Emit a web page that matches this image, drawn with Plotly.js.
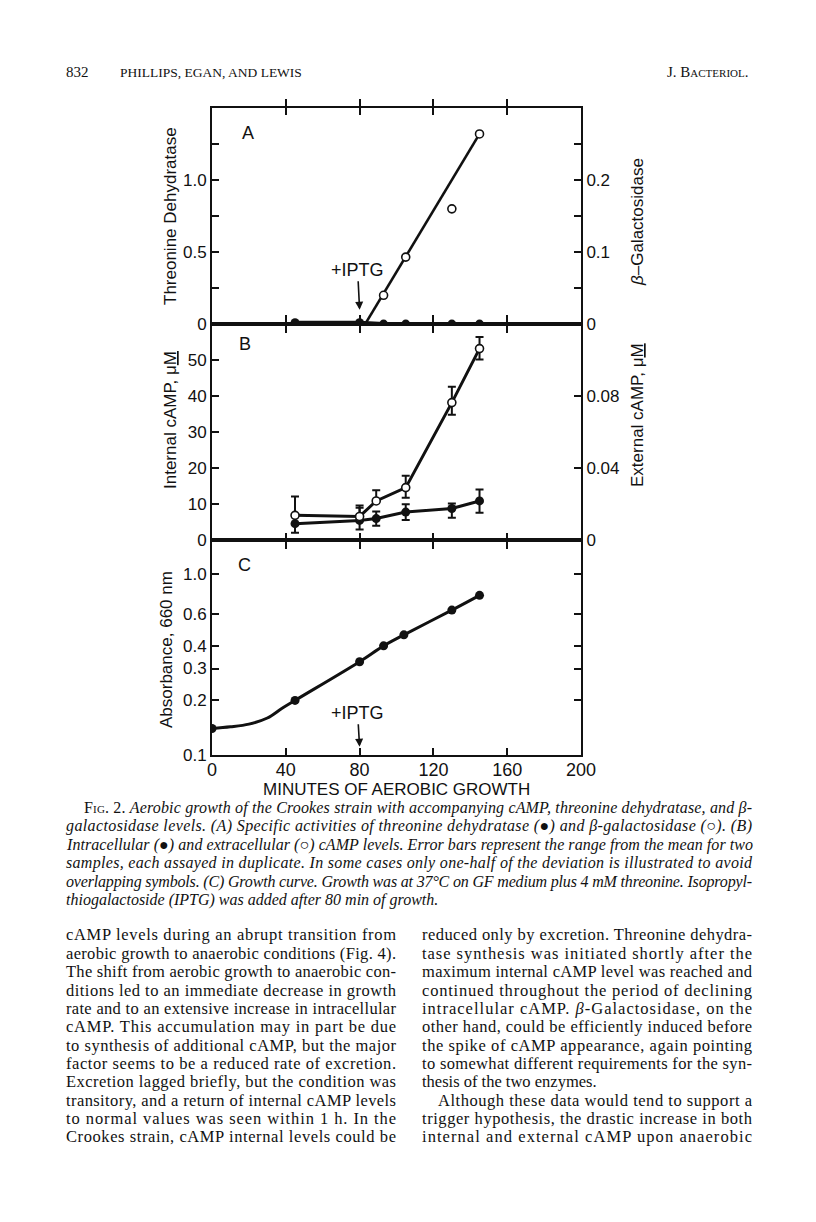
<!DOCTYPE html>
<html>
<head>
<meta charset="utf-8">
<script src="https://cdn.plot.ly/plotly-3.0.1.min.js"></script>
<style>
  body { margin: 0; background: #fff; }
  #plot { width: 816px; height: 1222px; }
</style>
</head>
<body>
<div id="plot"></div>
<script>
// (A) specific activities
var minA = [45, 80, 93, 105, 130, 145];
var threonineDH = [0.01, 0.01, 0, 0, 0, 0];
var minGal = [93, 105, 130, 145];
var betaGal = [0.04, 0.093, 0.16, 0.264];
var galFitMin = [83, 145];
var galFit = [0, 0.264];

// (B) intracellular (closed) and extracellular (open) cAMP
var minB = [45, 80, 89, 105, 130, 145];
var internalCamp = [4.6, 5.5, 6.0, 7.8, 8.8, 10.9];
var internalUp = [0, 3.5, 2.0, 2.2, 1.4, 3.2];
var internalDown = [2.5, 2.5, 2.0, 2.2, 2.6, 3.3];
var externalCamp = [0.0138, 0.0132, 0.0218, 0.0292, 0.0764, 0.1064];
var externalUp = [0.0104, 0.006, 0.006, 0.0066, 0.0088, 0.0064];
var externalDown = [0, 0, 0, 0.0056, 0.0068, 0.006];

var minC = [0, 45, 80, 93, 104, 130, 145];
var absorbance = [0.14, 0.2, 0.327, 0.4, 0.46, 0.63, 0.76];
var curveMin = [0, 10, 20, 30, 38, 45, 80, 93, 104, 130, 145];
var curveAbs = [0.14, 0.143, 0.148, 0.16, 0.181, 0.2, 0.327, 0.4, 0.46, 0.63, 0.76];

var iptgMin = 80;
var xTicks = [0, 40, 80, 120, 160, 200];

var captionLines = [
  "F<span style='font-size:11px'>IG</span>. 2. <i>Aerobic growth of the Crookes strain with accompanying cAMP, threonine dehydratase, and β-</i>",
  "<i>galactosidase levels. (A) Specific activities of threonine dehydratase (●) and β-galactosidase (○). (B)</i>",
  "<i>Intracellular (●) and extracellular (○) cAMP levels. Error bars represent the range from the mean for two</i>",
  "<i>samples, each assayed in duplicate. In some cases only one-half of the deviation is illustrated to avoid</i>",
  "<i>overlapping symbols. (C) Growth curve. Growth was at 37°C on GF medium plus 4 mM threonine. Isopropyl-</i>",
  "<i>thiogalactoside (IPTG) was added after 80 min of growth.</i>"
];
var leftCol = [
  "cAMP levels during an abrupt transition from",
  "aerobic growth to anaerobic conditions (Fig. 4).",
  "The shift from aerobic growth to anaerobic con-",
  "ditions led to an immediate decrease in growth",
  "rate and to an extensive increase in intracellular",
  "cAMP. This accumulation may in part be due",
  "to synthesis of additional cAMP, but the major",
  "factor seems to be a reduced rate of excretion.",
  "Excretion lagged briefly, but the condition was",
  "transitory, and a return of internal cAMP levels",
  "to normal values was seen within 1 h. In the",
  "Crookes strain, cAMP internal levels could be"
];
var rightCol = [
  "reduced only by excretion. Threonine dehydra-",
  "tase synthesis was initiated shortly after the",
  "maximum internal cAMP level was reached and",
  "continued throughout the period of declining",
  "intracellular cAMP. <i>β</i>-Galactosidase, on the",
  "other hand, could be efficiently induced before",
  "the spike of cAMP appearance, again pointing",
  "to somewhat different requirements for the syn-",
  "thesis of the two enzymes.",
  "Although these data would tend to support a",
  "trigger hypothesis, the drastic increase in both",
  "internal and external cAMP upon anaerobic"
];

var INK = "#111";
var SANS = "Liberation Sans, Arial, sans-serif";
var SERIF = "Liberation Serif, Times New Roman, serif";

// page pixels -> paper coords (plot area 212..581 x 108..755)
var L = 212, R = 235, T = 108, B = 467, W = 816 - L - R, H = 1222 - T - B;
function note(text, px, py, o) {
  o = o || {};
  return {
    text: text, xref: "paper", yref: "paper",
    x: (px - L) / W, y: (1222 - B - py) / H,
    xanchor: o.xanchor || "center", yanchor: o.yanchor || "middle",
    align: o.xanchor === "left" ? "left" : (o.xanchor === "right" ? "right" : "center"),
    showarrow: false, textangle: o.angle || 0,
    font: {family: o.family || SANS, size: o.size || 17, color: INK}
  };
}

var closedMk = {symbol: "circle", size: 9, color: INK};
var openMk = {symbol: "circle", size: 8, color: "#fff", line: {color: INK, width: 1.6}};

var traces = [
  {x: minA, y: threonineDH, xaxis: "x3", yaxis: "y", mode: "lines+markers",
   line: {color: INK, width: 4}, marker: closedMk},
  {x: galFitMin, y: galFit, xaxis: "x3", yaxis: "y2", mode: "lines",
   line: {color: INK, width: 2.6}},
  {x: minGal, y: betaGal, xaxis: "x3", yaxis: "y2", mode: "markers", marker: openMk},

  {x: minB, y: internalCamp, xaxis: "x2", yaxis: "y3", mode: "lines+markers",
   line: {color: INK, width: 3}, marker: closedMk,
   error_y: {type: "data", symmetric: false, array: internalUp, arrayminus: internalDown,
             color: INK, thickness: 2, width: 4}},
  {x: minB, y: externalCamp, xaxis: "x2", yaxis: "y4", mode: "lines+markers",
   line: {color: INK, width: 3}, marker: openMk,
   error_y: {type: "data", symmetric: false, array: externalUp, arrayminus: externalDown,
             color: INK, thickness: 2, width: 4}},

  {x: curveMin, y: curveAbs, xaxis: "x", yaxis: "y5", mode: "lines",
   line: {color: INK, width: 3, shape: "spline", smoothing: 1}},
  {x: minC, y: absorbance, xaxis: "x", yaxis: "y5", mode: "markers", marker: closedMk}
];

function xAx(anchor, labels) {
  return {
    anchor: anchor, domain: [0, 1], range: [0, 200], tickvals: xTicks,
    showticklabels: labels, ticks: "inside", ticklen: 7, tickwidth: 2, tickcolor: INK,
    showline: true, linecolor: INK, linewidth: 2, mirror: "allticks",
    showgrid: false, zeroline: false, ticklabelstandoff: -3,
    tickfont: {family: SANS, size: 18, color: INK}
  };
}
function yAx(domain, o) {
  var a = {
    domain: domain, anchor: "x", ticks: "inside", ticklen: 7, tickwidth: 2, tickcolor: INK,
    showline: true, linecolor: INK, linewidth: 2, showgrid: false, zeroline: false,
    tickfont: {family: SANS, size: 17, color: INK}, ticklabelstandoff: 0
  };
  for (var k in o) a[k] = o[k];
  return a;
}

var dA = [0.666, 1], dB = [0.332, 0.666], dC = [0, 0.332];

var layout = {
  width: 816, height: 1222,
  margin: {l: L, r: R, t: T, b: B},
  paper_bgcolor: "#fff", plot_bgcolor: "rgba(0,0,0,0)",
  showlegend: false,
  xaxis: xAx("y5", true),
  xaxis2: xAx("y3", false),
  xaxis3: xAx("y", false),
  yaxis: yAx(dA, {anchor: "x3", range: [0, 1.5],
    tickvals: [0, 0.25, 0.5, 0.75, 1.0, 1.25], ticktext: ["0", "", "0.5", "", "1.0", ""]}),
  yaxis2: yAx(dA, {anchor: "x3", overlaying: "y", side: "right", range: [0, 0.3],
    tickvals: [0, 0.05, 0.1, 0.15, 0.2, 0.25], ticktext: ["0", "", "0.1", "", "0.2", ""]}),
  yaxis3: yAx(dB, {anchor: "x2", range: [0, 60],
    tickvals: [0, 10, 20, 30, 40, 50], ticktext: ["0", "10", "20", "30", "40", "50"]}),
  yaxis4: yAx(dB, {anchor: "x2", overlaying: "y3", side: "right", range: [0, 0.12],
    tickvals: [0, 0.04, 0.08], ticktext: ["0", "0.04", "0.08"]}),
  yaxis5: yAx(dC, {anchor: "x", type: "log", range: [-1, 0.185], mirror: "allticks",
    tickvals: [0.1, 0.2, 0.3, 0.4, 0.6, 1.0], ticktext: ["0.1", "0.2", "0.3", "0.4", "0.6", "1.0"]}),
  annotations: []
};

var ann = layout.annotations;
var justify = {};   // annotation index -> line width in px

ann.push({text: "+IPTG", xref: "x3", yref: "y", x: iptgMin, y: 0.1, ax: -2, ay: -40,
  showarrow: true, arrowhead: 2, arrowsize: 1, arrowwidth: 1.6, arrowcolor: INK,
  font: {family: SANS, size: 18, color: INK}});
ann.push({text: "+IPTG", xref: "x", yref: "y5", x: iptgMin, y: Math.log10(0.111), ax: -2, ay: -34,
  showarrow: true, arrowhead: 2, arrowsize: 1, arrowwidth: 1.6, arrowcolor: INK,
  font: {family: SANS, size: 18, color: INK}});

ann.push(note("A", 248, 133, {size: 18}));
ann.push(note("B", 245, 344, {size: 18}));
ann.push(note("C", 244, 565, {size: 18}));

ann.push(note("Threonine Dehydratase", 170, 216, {angle: -90}));
ann.push(note("Internal cAMP, μ<u>M</u>", 170, 420, {angle: -90}));
ann.push(note("Absorbance, 660 nm", 166, 650, {angle: -90}));
ann.push(note("<i>β</i>–Galactosidase", 637, 222, {angle: -90}));
ann.push(note("External cAMP, μ<u>M</u>", 637, 415, {angle: -90}));
ann.push(note("MINUTES OF AEROBIC GROWTH", 396, 789, {size: 17}));

ann.push(note("832", 64, 72, {xanchor: "left", family: SERIF, size: 15}));
ann.push(note("PHILLIPS, EGAN, AND LEWIS", 118, 72, {xanchor: "left", family: SERIF, size: 13.5}));
ann.push(note("J. B<span style='font-size:11px'>ACTERIOL</span>.", 750, 72, {xanchor: "right", family: SERIF, size: 15}));

captionLines.forEach(function (s, i) {
  var x0 = i === 0 ? 82 : 64;
  if (i < captionLines.length - 1) justify[ann.length] = 750 - x0;
  ann.push(note(s, x0, 808 + i * 18.4, {xanchor: "left", family: SERIF, size: 16}));
});
leftCol.forEach(function (s, i) {
  justify[ann.length] = 394 - 64;
  ann.push(note(s, 64, 935 + i * 18.36, {xanchor: "left", family: SERIF, size: 16.5}));
});
rightCol.forEach(function (s, i) {
  var x0 = i === 9 ? 436 : 420;
  if (i !== 8) justify[ann.length] = 750 - x0;
  ann.push(note(s, x0, 935 + i * 18.36, {xanchor: "left", family: SERIF, size: 16.5}));
});

Plotly.newPlot("plot", traces, layout, {staticPlot: true}).then(function (gd) {
  // stretch full-measure lines to the column width, like the justified type
  gd.querySelectorAll(".annotation").forEach(function (g) {
    var w = justify[+g.getAttribute("data-index")];
    var t = g.querySelector("text.annotation-text");
    if (w && t) {
      t.setAttribute("textLength", w);
      t.setAttribute("lengthAdjust", "spacing");
    }
  });
});
</script>
</body>
</html>
